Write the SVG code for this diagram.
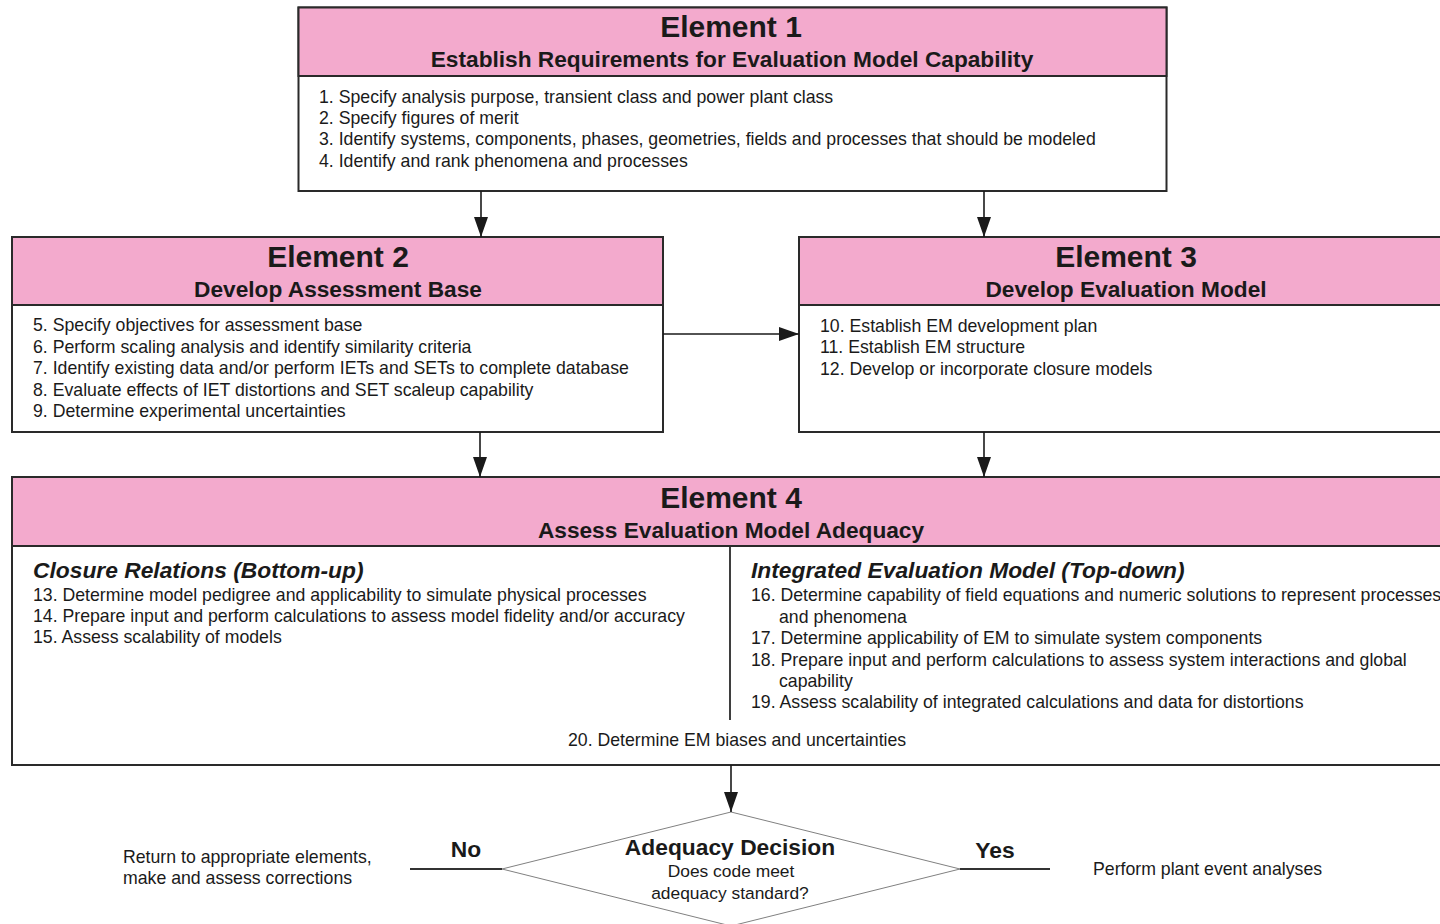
<svg xmlns="http://www.w3.org/2000/svg" width="1440" height="924" viewBox="0 0 1440 924">
  <style>
    .box { fill: #ffffff; stroke: #2a2a2a; stroke-width: 2; }
    .head { fill: #f3aacd; stroke: #2a2a2a; stroke-width: 2; }
    .title { font-family: "Liberation Sans", Arial, sans-serif; font-weight: bold; font-size: 30px; fill: #1a1a1a; text-anchor: middle; }
    .sub { font-family: "Liberation Sans", Arial, sans-serif; font-weight: bold; font-size: 22.7px; fill: #1a1a1a; text-anchor: middle; }
    .item { font-family: "Liberation Sans", Arial, sans-serif; font-size: 17.7px; fill: #1a1a1a; }
    .sect { font-family: "Liberation Sans", Arial, sans-serif; font-weight: bold; font-style: italic; font-size: 22.8px; fill: #1a1a1a; }
    .note { font-family: "Liberation Sans", Arial, sans-serif; font-size: 17.7px; fill: #1a1a1a; }
    .lbl { font-family: "Liberation Sans", Arial, sans-serif; font-weight: bold; font-size: 22.8px; fill: #1a1a1a; text-anchor: middle; }
    .q { font-family: "Liberation Sans", Arial, sans-serif; font-size: 17.4px; fill: #1a1a1a; text-anchor: middle; }
    .wire { fill: none; stroke: #1a1a1a; stroke-width: 1.6; }
    .branch { fill: none; stroke: #333333; stroke-width: 1.8; }
  </style>
  <defs>
    <marker id="arrow" viewBox="0 0 20 14" refX="20" refY="7" markerWidth="20" markerHeight="14" markerUnits="userSpaceOnUse" orient="auto">
      <path d="M0,0 L20,7 L0,14 z" fill="#1a1a1a"/>
    </marker>
  </defs>

  <rect width="1440" height="924" fill="#ffffff"/>

  <!-- Element 1 -->
  <g id="element1">
    <rect class="box" x="298.5" y="7.5" width="868" height="183.5"/>
    <rect class="head" x="298.5" y="7.5" width="868" height="68.5"/>
    <text class="title" x="731" y="37">Element 1</text>
    <text class="sub" x="732" y="67">Establish Requirements for Evaluation Model Capability</text>
    <text class="item" x="319" y="103">1. Specify analysis purpose, transient class and power plant class</text>
    <text class="item" x="319" y="124">2. Specify figures of merit</text>
    <text class="item" x="319" y="145">3. Identify systems, components, phases, geometries, fields and processes that should be modeled</text>
    <text class="item" x="319" y="167">4. Identify and rank phenomena and processes</text>
  </g>

  <!-- Element 2 -->
  <g id="element2">
    <rect class="box" x="12" y="237" width="651" height="195"/>
    <rect class="head" x="12" y="237" width="651" height="68"/>
    <text class="title" x="338" y="267">Element 2</text>
    <text class="sub" x="338" y="297">Develop Assessment Base</text>
    <text class="item" x="33" y="331">5. Specify objectives for assessment base</text>
    <text class="item" x="33" y="353">6. Perform scaling analysis and identify similarity criteria</text>
    <text class="item" x="33" y="374">7. Identify existing data and/or perform IETs and SETs to complete database</text>
    <text class="item" x="33" y="396">8. Evaluate effects of IET distortions and SET scaleup capability</text>
    <text class="item" x="33" y="417">9. Determine experimental uncertainties</text>
  </g>

  <!-- Element 3 -->
  <g id="element3">
    <rect class="box" x="799" y="237" width="660" height="195"/>
    <rect class="head" x="799" y="237" width="660" height="68"/>
    <text class="title" x="1126" y="267">Element 3</text>
    <text class="sub" x="1126" y="297">Develop Evaluation Model</text>
    <text class="item" x="820" y="332">10. Establish EM development plan</text>
    <text class="item" x="820" y="353">11. Establish EM structure</text>
    <text class="item" x="820" y="375">12. Develop or incorporate closure models</text>
  </g>

  <!-- Element 4 -->
  <g id="element4">
    <rect class="box" x="12" y="477" width="1447" height="288"/>
    <rect class="head" x="12" y="477" width="1447" height="69"/>
    <text class="title" x="731" y="508">Element 4</text>
    <text class="sub" x="731" y="538">Assess Evaluation Model Adequacy</text>
    <line x1="730" y1="546" x2="730" y2="720" stroke="#2a2a2a" stroke-width="1.8"/>
    <text class="sect" x="33" y="578">Closure Relations (Bottom-up)</text>
    <text class="item" x="33" y="601">13. Determine model pedigree and applicability to simulate physical processes</text>
    <text class="item" x="33" y="622">14. Prepare input and perform calculations to assess model fidelity and/or accuracy</text>
    <text class="item" x="33" y="643">15. Assess scalability of models</text>
    <text class="sect" x="751" y="578">Integrated Evaluation Model (Top-down)</text>
    <text class="item" x="751" y="601">16. Determine capability of field equations and numeric solutions to represent processes</text>
    <text class="item" x="779" y="623">and phenomena</text>
    <text class="item" x="751" y="644">17. Determine applicability of EM to simulate system components</text>
    <text class="item" x="751" y="666">18. Prepare input and perform calculations to assess system interactions and global</text>
    <text class="item" x="779" y="687">capability</text>
    <text class="item" x="751" y="708">19. Assess scalability of integrated calculations and data for distortions</text>
    <text class="item" x="568" y="746">20. Determine EM biases and uncertainties</text>
  </g>

  <!-- Adequacy decision -->
  <g id="decision">
    <polygon points="731,812 960,869 731,926 502,869" fill="#ffffff" stroke="#808080" stroke-width="1"/>
    <text class="lbl" x="730" y="855">Adequacy Decision</text>
    <text class="q" x="731" y="877">Does code meet</text>
    <text class="q" x="730" y="899">adequacy standard?</text>
  </g>

  <g id="outcome-no">
    <text class="note" x="123" y="863">Return to appropriate elements,</text>
    <text class="note" x="123" y="884">make and assess corrections</text>
  </g>

  <g id="outcome-yes">
    <text class="note" x="1093" y="875">Perform plant event analyses</text>
  </g>

  <!-- Connectors -->
  <g id="connectors">
    <line class="wire" x1="481" y1="191" x2="481" y2="237" marker-end="url(#arrow)"/>
    <line class="wire" x1="984" y1="191" x2="984" y2="237" marker-end="url(#arrow)"/>
    <line class="wire" x1="663" y1="334" x2="799" y2="334" marker-end="url(#arrow)"/>
    <line class="wire" x1="480" y1="432" x2="480" y2="477" marker-end="url(#arrow)"/>
    <line class="wire" x1="984" y1="432" x2="984" y2="477" marker-end="url(#arrow)"/>
    <line class="wire" x1="731" y1="765" x2="731" y2="812" marker-end="url(#arrow)"/>
    <line class="branch" x1="410" y1="869" x2="502" y2="869"/>
    <text class="lbl" x="466" y="857">No</text>
    <line class="branch" x1="960" y1="869" x2="1050" y2="869"/>
    <text class="lbl" x="995" y="858">Yes</text>
  </g>
</svg>
